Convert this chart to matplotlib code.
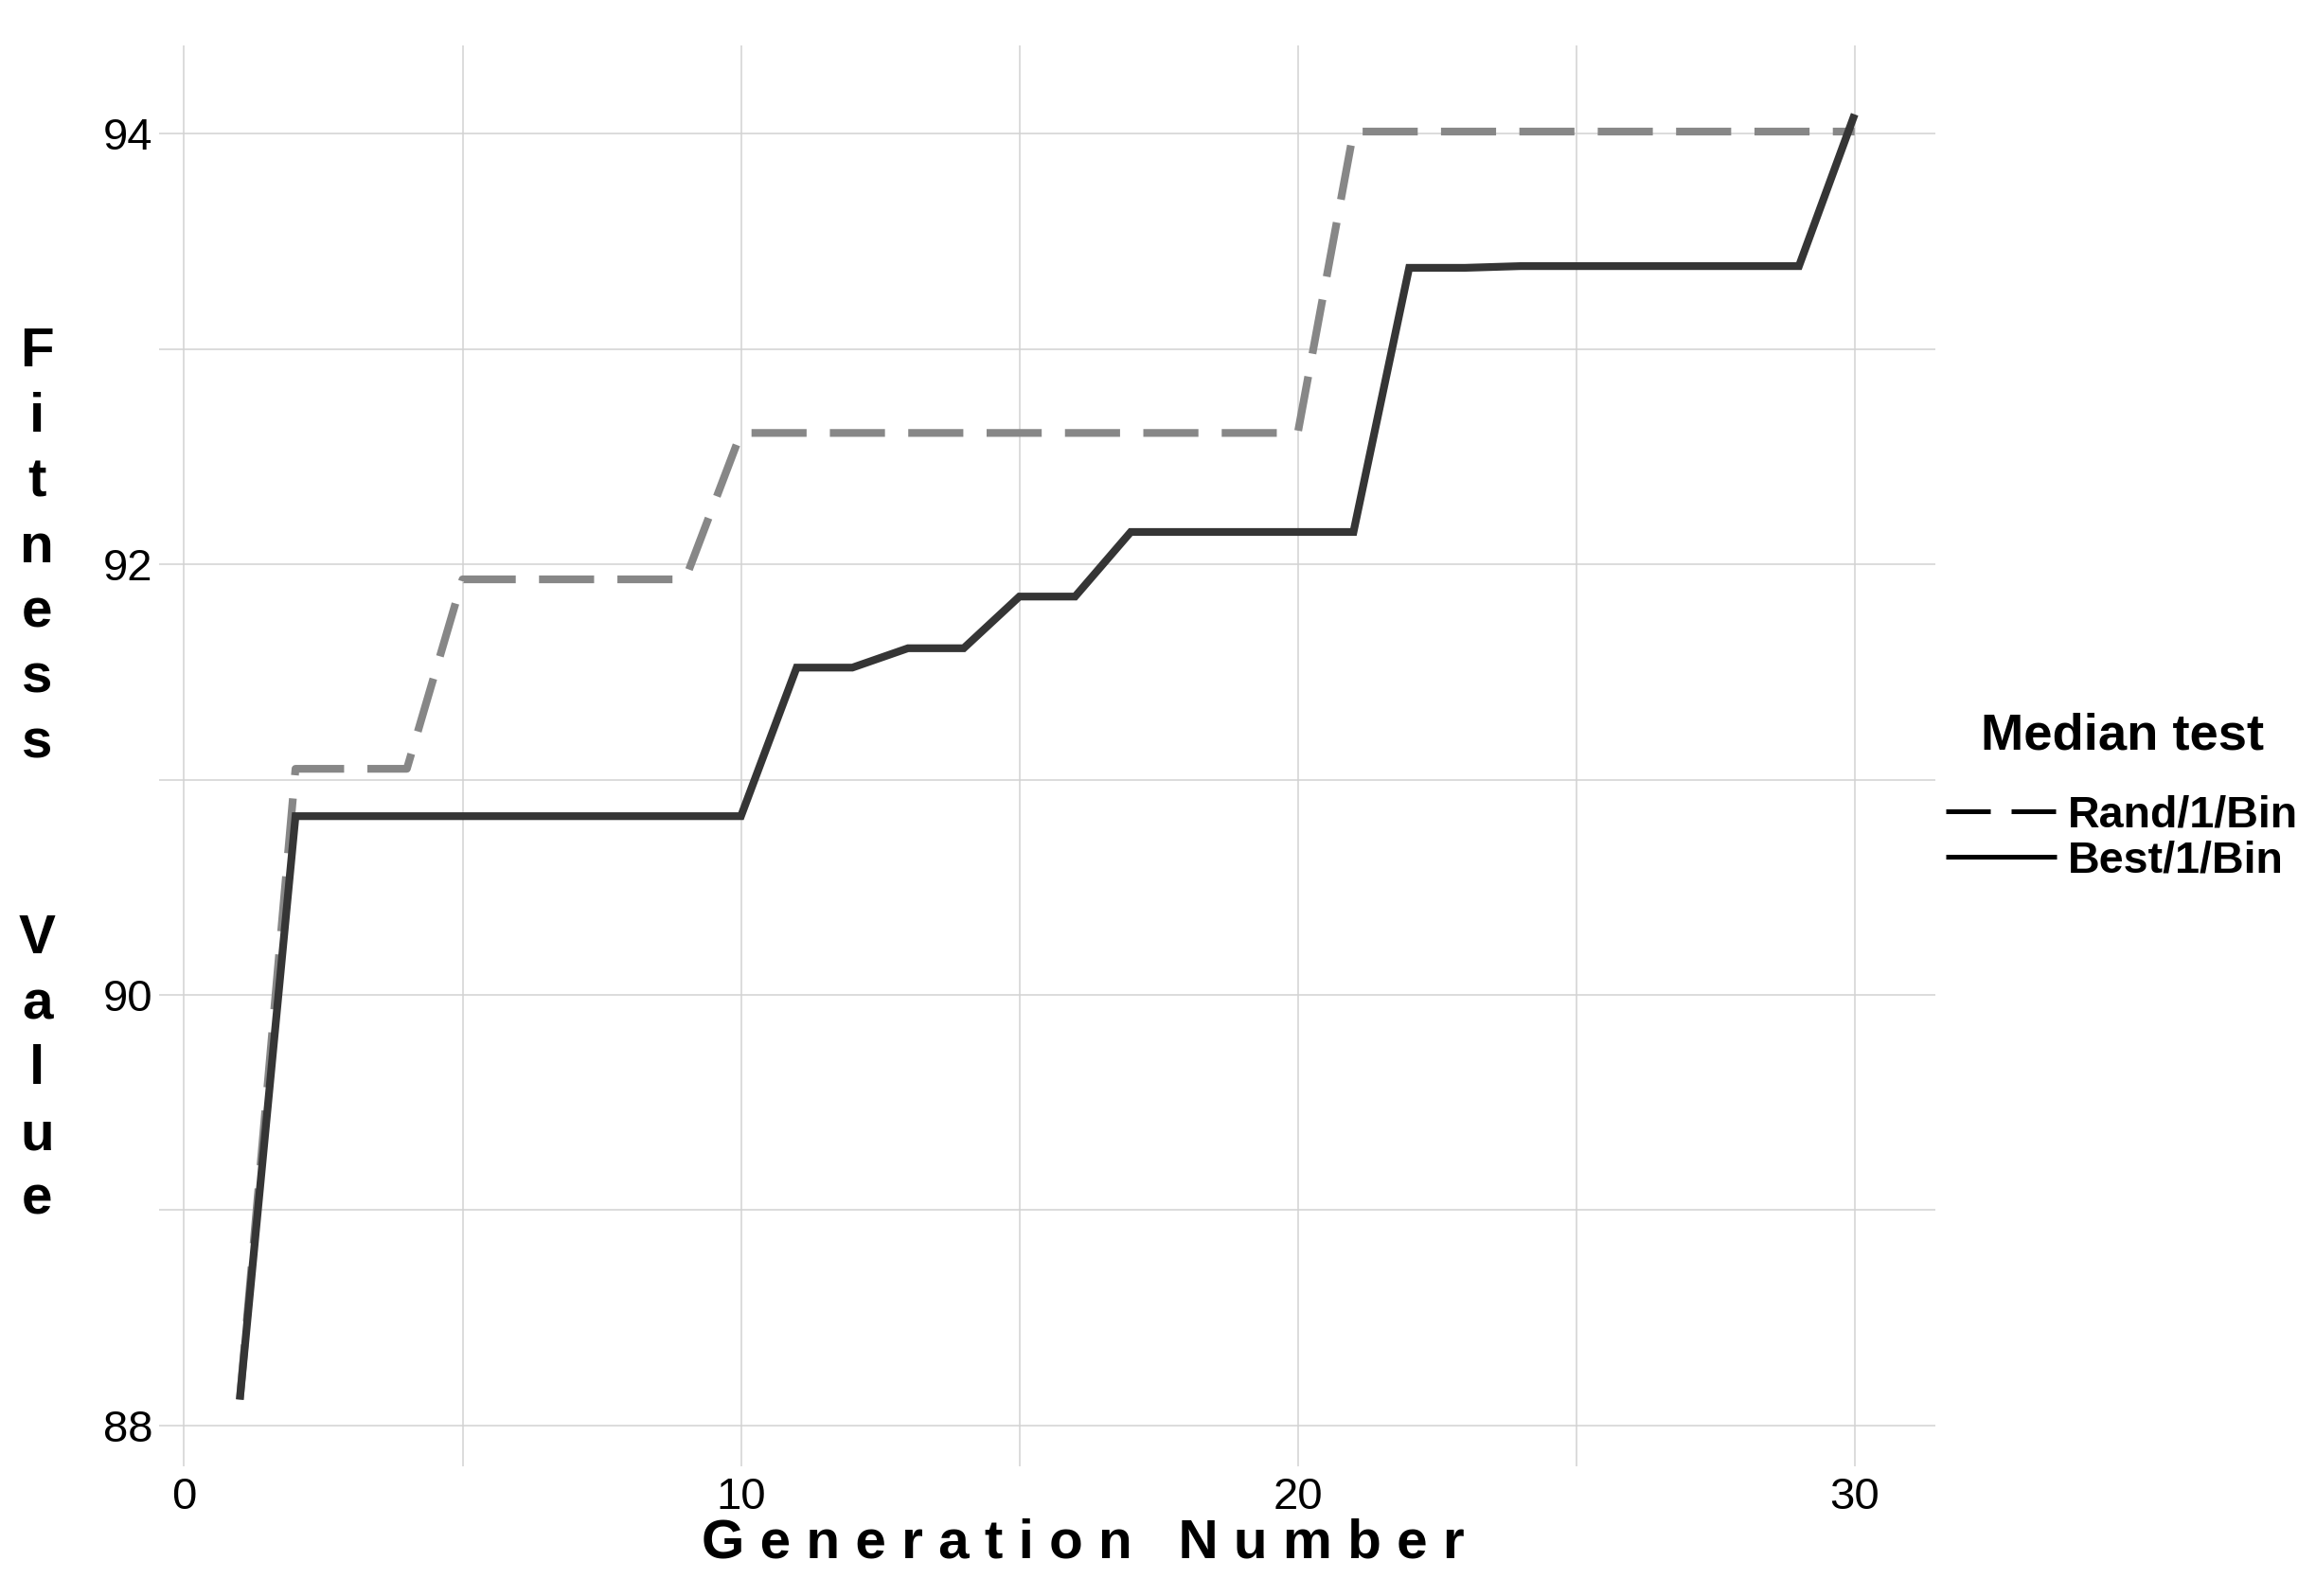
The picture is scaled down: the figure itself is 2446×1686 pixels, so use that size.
import matplotlib
matplotlib.use("Agg")
import matplotlib.pyplot as plt
from matplotlib.lines import Line2D

plt.rcParams['font.family'] = ['Liberation Sans', 'DejaVu Sans']

# ---- data ----
generations = list(range(1, 31))
rand_1_bin = [88.12, 91.05, 91.05, 91.05, 91.93, 91.93, 91.93, 91.93, 91.93,
              92.61, 92.61, 92.61, 92.61, 92.61, 92.61, 92.61, 92.61, 92.61, 92.61, 92.61,
              94.01, 94.01, 94.01, 94.01, 94.01, 94.01, 94.01, 94.01, 94.01, 94.01]
best_1_bin = [88.12, 90.83, 90.83, 90.83, 90.83, 90.83, 90.83, 90.83, 90.83, 90.83,
              91.52, 91.52, 91.61, 91.61, 91.85, 91.85, 92.15, 92.15, 92.15, 92.15, 92.15,
              93.377, 93.377, 93.385, 93.385, 93.385, 93.385, 93.385, 93.385, 94.09]
series_labels = ["Rand/1/Bin", "Best/1/Bin"]
legend_title = "Median test"
x_major = [0, 10, 20, 30]
x_minor = [5, 15, 25]
y_major = [88, 90, 92, 94]
y_minor = [89, 91, 93]

fig = plt.figure(figsize=(12.23, 8.43), dpi=200)
ax = fig.add_axes([168/2446, 1 - 1549/1686, (2044-168)/2446, (1549-48)/1686])

ax.plot(generations, rand_1_bin, color='#878787', lw=2.95, linestyle=(0, (7.1, 3.0)),
        dash_capstyle='butt', solid_joinstyle='miter', zorder=3)
ax.plot(generations, best_1_bin, color='#353535', lw=2.95, solid_capstyle='butt',
        solid_joinstyle='miter', zorder=4)

ax.set_xlim(-0.45, 31.45)
ax.set_ylim(87.81, 94.41)
ax.set_xticks(x_major)
ax.set_xticks(x_minor, minor=True)
ax.set_yticks(y_major)
ax.set_yticks(y_minor, minor=True)
ax.set_xticklabels([str(v) for v in x_major])
ax.set_yticklabels([str(v) for v in y_major])
ax.grid(True, which='both', color='#d2d2d2', lw=0.55)
ax.set_axisbelow(True)
for s in ax.spines.values():
    s.set_visible(False)
ax.tick_params(which='both', length=0)
ax.tick_params(axis='x', pad=4, labelsize=17, labelcolor='black')
ax.tick_params(axis='y', pad=2.5, labelsize=17, labelcolor='black')

# axis titles (letter-spaced, y title stacked)
fig.text(0.4677, 1 - 1631/1686, "G e n e r a t i o n   N u m b e r", ha='center', va='center',
         fontsize=21, fontweight='bold')
fig.text(0.016, 1 - 820/1686, "F\ni\nt\nn\ne\ns\ns\n\n\nV\na\nl\nu\ne", ha='center', va='center',
         multialignment='center', fontsize=21, fontweight='bold', linespacing=1.355)

handles = [Line2D([], [], color='black', lw=1.8, linestyle=(0, (9.4, 4.4)), dash_capstyle='butt'),
           Line2D([], [], color='black', lw=1.8, solid_capstyle='butt')]
leg = fig.legend(handles, series_labels, title=legend_title, loc='upper left',
                 bbox_to_anchor=(2055/2446, 1 - 753/1686), frameon=False,
                 borderpad=0, borderaxespad=0, handlelength=2.5, handletextpad=0.27,
                 labelspacing=0.1, prop={'size': 16.8, 'weight': 'bold'},
                 title_fontproperties={'size': 19.6, 'weight': 'bold'})
# extra gap between the legend title and its entries
leg._legend_box.sep = 13.0

fig.savefig("out.png", dpi=200)
